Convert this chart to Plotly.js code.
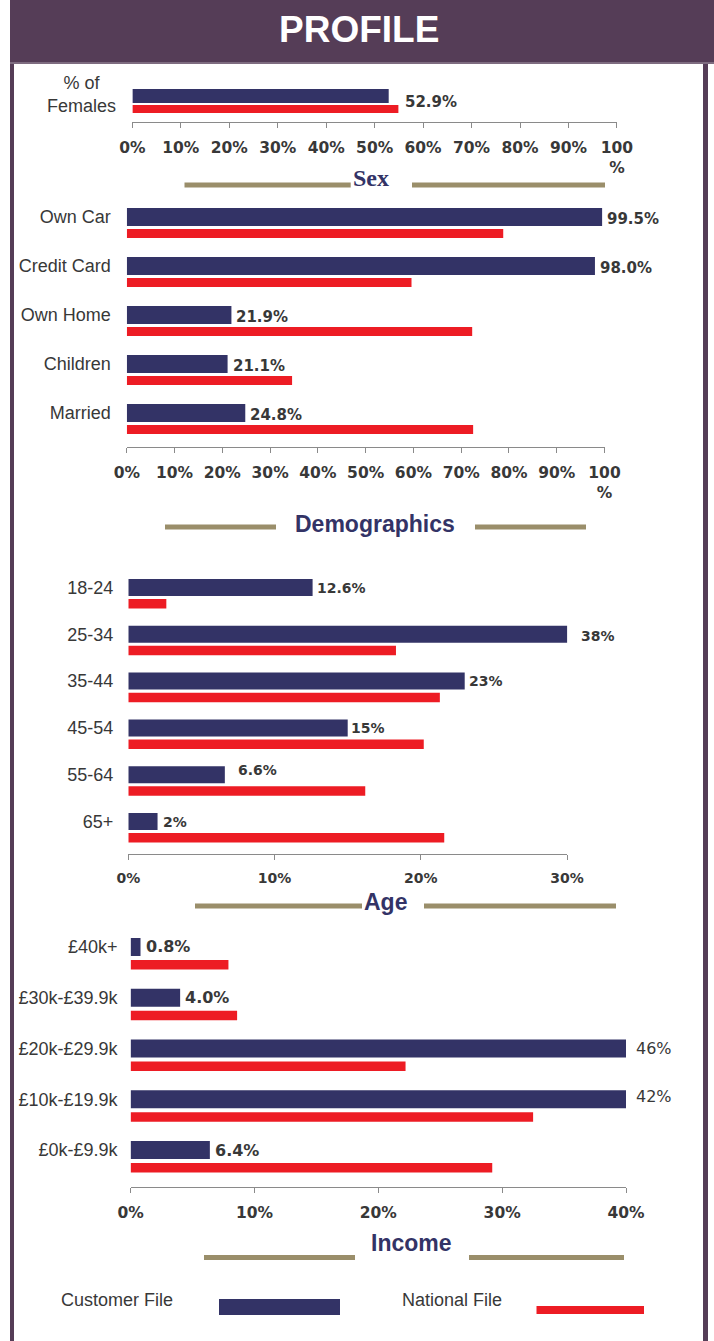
<!DOCTYPE html>
<html>
<head>
<meta charset="utf-8">
<script src="https://cdn.plot.ly/plotly-3.0.1.min.js"></script>
<style>html,body{margin:0;padding:0;background:#fff;}#chart{width:714px;height:1341px;}</style>
</head>
<body>
<div id="chart"></div>
<script>
// ---------- DATA ----------
const sexCats = ['% of<br>Females'];
const sexCustomer = [52.9];
const sexNational = [54.9];
const sexLabels = ['52.9%'];

const demoCats = ['Own Car', 'Credit Card', 'Own Home', 'Children', 'Married'];
const demoCustomer = [99.5, 98.0, 21.9, 21.1, 24.8];
const demoNational = [78.8, 59.6, 72.3, 34.6, 72.5];
const demoLabels = ['99.5%', '98.0%', '21.9%', '21.1%', '24.8%'];

const ageCats = ['18-24', '25-34', '35-44', '45-54', '55-64', '65+'];
const ageCustomer = [12.6, 38, 23, 15, 6.6, 2];
const ageNational = [2.6, 18.3, 21.3, 20.2, 16.2, 21.6];
const ageLabels = ['12.6%', '38%', '23%', '15%', '6.6%', '2%'];

const incomeCats = ['£40k+', '£30k-£39.9k', '£20k-£29.9k', '£10k-£19.9k', '£0k-£9.9k'];
const incomeCustomer = [0.8, 4.0, 46, 42, 6.4];
const incomeNational = [7.9, 8.6, 22.2, 32.5, 29.2];
const incomeLabels = ['0.8%', '4.0%', '46%', '42%', '6.4%'];

const pctTicks100 = [0, 10, 20, 30, 40, 50, 60, 70, 80, 90, 100];
const pctText100 = ['0%', '10%', '20%', '30%', '40%', '50%', '60%', '70%', '80%', '90%', '100<br>%'];
const ageTicks = [0, 10, 20, 30];
const ageTickText = ['0%', '10%', '20%', '30%'];
const incomeTicks = [0, 10, 20, 30, 40];
const incomeTickText = ['0%', '10%', '20%', '30%', '40%'];

const seriesNames = ['Customer File', 'National File'];
const sectionTitles = ['Sex', 'Demographics', 'Age', 'Income'];
const pageTitle = 'PROFILE';

// ---------- STYLE ----------
const W = 714, H = 1341;
const NAVY = '#333366', RED = '#ED1C24', OLIVE = '#9A8E6A', PURPLE = '#553D57';
const TXT = '#383838';
const SANS = 'Liberation Sans, Arial, sans-serif';
const WIDE = 'DejaVu Sans, Verdana, sans-serif';
const X = v => v / W;
const Y = v => 1 - v / H;

function xAxis(l, r, range, tv, tt, fs, anchor) {
  return {
    domain: [X(l), X(r)], range: range, anchor: anchor, fixedrange: true,
    showgrid: false, zeroline: false, showline: true, linecolor: '#8a8a8a', linewidth: 1,
    ticks: 'outside', ticklen: 5, tickcolor: '#8a8a8a', tickwidth: 1,
    tickmode: 'array', tickvals: tv, ticktext: tt,
    tickfont: {family: WIDE, size: fs, color: TXT, weight: 'bold'},
    ticklabelstandoff: 6
  };
}
function yAxis(top, bottom, range, anchor, show, standoff) {
  return {
    domain: [Y(bottom), Y(top)], range: range, type: 'category', anchor: anchor, fixedrange: true,
    showgrid: false, zeroline: false, showline: false, ticks: '',
    showticklabels: show, ticklabelstandoff: standoff,
    tickfont: {family: SANS, size: 18, color: TXT}
  };
}

// chart geometry: [xaxis id, yaxis id, navy offset, navy width, red offset, red width]
const charts = [
  {cats: sexCats, cus: sexCustomer, nat: sexNational, lab: sexLabels, xa: 'x', ya: 'y',
   no: -0.189, nw: 0.378, ro: 0.243, rw: 0.216},
  {cats: demoCats, cus: demoCustomer, nat: demoNational, lab: demoLabels, xa: 'x2', ya: 'y2',
   no: -0.184, nw: 0.367, ro: 0.245, rw: 0.184},
  {cats: ageCats, cus: ageCustomer, nat: ageNational, lab: ageLabels, xa: 'x3', ya: 'y3',
   no: -0.182, nw: 0.363, ro: 0.246, rw: 0.203},
  {cats: incomeCats, cus: incomeCustomer, nat: incomeNational, lab: incomeLabels, xa: 'x4', ya: 'y4',
   no: -0.177, nw: 0.355, ro: 0.256, rw: 0.187}
];

const data = [];
charts.forEach(c => {
  data.push({type: 'bar', orientation: 'h', x: c.cus, y: c.cats, name: seriesNames[0],
    xaxis: c.xa, yaxis: c.ya, width: c.nw, offset: c.no, marker: {color: NAVY, line: {width: 0}}});
  data.push({type: 'bar', orientation: 'h', x: c.nat, y: c.cats, name: seriesNames[1],
    xaxis: c.xa, yaxis: c.ya, width: c.rw, offset: c.ro, marker: {color: RED, line: {width: 0}}});
});

const annotations = [];
// page title
annotations.push({xref: 'paper', yref: 'paper', x: X(359), y: Y(29), text: pageTitle, showarrow: false,
  xanchor: 'center', yanchor: 'middle', font: {family: SANS, size: 37, color: '#ffffff', weight: 'bold'}});
// sex category label (centred two-line)
annotations.push({xref: 'paper', yref: 'y', x: X(81), y: sexCats[0], text: sexCats[0], showarrow: false,
  xanchor: 'center', yanchor: 'middle', align: 'center', yshift: 1,
  font: {family: SANS, size: 18, color: TXT}});

// value labels
sexLabels.forEach((t, i) => annotations.push({xref: 'x', yref: 'y', x: Math.max(sexCustomer[i], sexNational[i]),
  y: sexCats[i], text: t, showarrow: false, xanchor: 'left', yanchor: 'middle', xshift: 5, yshift: -6,
  font: {family: WIDE, size: 15, color: TXT, weight: 'bold'}}));
demoLabels.forEach((t, i) => annotations.push({xref: 'x2', yref: 'y2', x: Math.min(demoCustomer[i], 100),
  y: demoCats[i], text: t, showarrow: false, xanchor: 'left', yanchor: 'middle', xshift: 3, yshift: -2,
  font: {family: WIDE, size: 15, color: TXT, weight: 'bold'}}));
const ageDx = [2.5, 12, 2.5, 1, 11, 3.5], ageDy = [0, -1.5, 0, 0, 4.5, 0];
ageLabels.forEach((t, i) => annotations.push({xref: 'x3', yref: 'y3', x: Math.min(ageCustomer[i], 30),
  y: ageCats[i], text: t, showarrow: false, xanchor: 'left', yanchor: 'middle', xshift: ageDx[i], yshift: ageDy[i],
  font: {family: WIDE, size: 14, color: TXT, weight: 'bold'}}));
const incDx = [3.5, 2.5, 8, 8, 3.5], incDy = [0, 0, 0, 3, 0], incBold = [true, true, false, false, true];
incomeLabels.forEach((t, i) => annotations.push({xref: 'x4', yref: 'y4', x: Math.min(incomeCustomer[i], 40),
  y: incomeCats[i], text: t, showarrow: false, xanchor: 'left', yanchor: 'middle', xshift: incDx[i], yshift: incDy[i],
  font: {family: WIDE, size: incBold[i] ? 16 : 16, color: TXT, weight: incBold[i] ? 'bold' : 'normal'}}));

// section titles
const titlePos = [[370.5, 178], [374.5, 524], [385, 902], [412, 1243]];
sectionTitles.forEach((t, i) => annotations.push({xref: 'paper', yref: 'paper', x: X(titlePos[i][0]), y: Y(titlePos[i][1]),
  text: t, showarrow: false, xanchor: 'center', yanchor: 'middle',
  font: i === 0 ? {family: 'Liberation Serif, Times New Roman, serif', size: 24, color: NAVY, weight: 'bold'}
               : {family: SANS, size: 23, color: NAVY, weight: 'bold'}}));

// legend text
annotations.push({xref: 'paper', yref: 'paper', x: X(59), y: Y(1300), text: seriesNames[0], showarrow: false,
  xanchor: 'left', yanchor: 'middle', font: {family: SANS, size: 18, color: TXT}});
annotations.push({xref: 'paper', yref: 'paper', x: X(400), y: Y(1300), text: seriesNames[1], showarrow: false,
  xanchor: 'left', yanchor: 'middle', font: {family: SANS, size: 18, color: TXT}});

// decorative shapes
const shapes = [];
function rect(x0, y0, x1, y1, color) {
  shapes.push({type: 'rect', xref: 'paper', yref: 'paper', x0: X(x0), x1: X(x1), y0: Y(y1), y1: Y(y0),
    fillcolor: color, line: {width: 0}, layer: 'below'});
}
rect(10, 0, 714, 62, PURPLE);
rect(10, 62, 714, 64, '#7E6C80');
rect(10, 64, 14, 1341, PURPLE);
rect(703, 64, 708, 1341, PURPLE);
// olive title rules
const rules = [[184.5, 350.7, 412, 605, 185], [165, 276, 475, 586, 527], [195, 362, 424, 616, 906], [204, 355, 469, 624, 1257.5]];
rules.forEach(r => { rect(r[0], r[4] - 2.5, r[1], r[4] + 2.5, OLIVE); rect(r[2], r[4] - 2.5, r[3], r[4] + 2.5, OLIVE); });
// legend swatches
rect(219, 1299, 340, 1315, NAVY);
rect(536.5, 1306, 644, 1314, RED);

const layout = {
  width: W, height: H, margin: {l: 0, r: 0, t: 0, b: 0},
  paper_bgcolor: '#ffffff', plot_bgcolor: 'rgba(0,0,0,0)',
  barmode: 'overlay', showlegend: false, hovermode: false,
  xaxis: xAxis(132.4, 616.9, [0, 100], pctTicks100, pctText100, 15.5, 'y'),
  yaxis: yAxis(85, 122, [0.703, -0.297], 'x', false, 14),
  xaxis2: xAxis(126.8, 604.5, [0, 100], pctTicks100, pctText100, 15.5, 'y2'),
  yaxis2: yAxis(200, 447, [4.694, -0.347], 'x2', true, 15),
  xaxis3: xAxis(128.3, 567.1, [0, 30], ageTicks, ageTickText, 14, 'y3'),
  yaxis3: yAxis(565, 854, [5.694, -0.481], 'x3', true, 14),
  xaxis4: xAxis(130.6, 626, [0, 40], incomeTicks, incomeTickText, 15.5, 'y4'),
  yaxis4: yAxis(925, 1187, [4.729, -0.433], 'x4', true, 12),
  annotations: annotations, shapes: shapes
};

Plotly.newPlot('chart', data, layout, {staticPlot: true, displayModeBar: false});
</script>
</body>
</html>
